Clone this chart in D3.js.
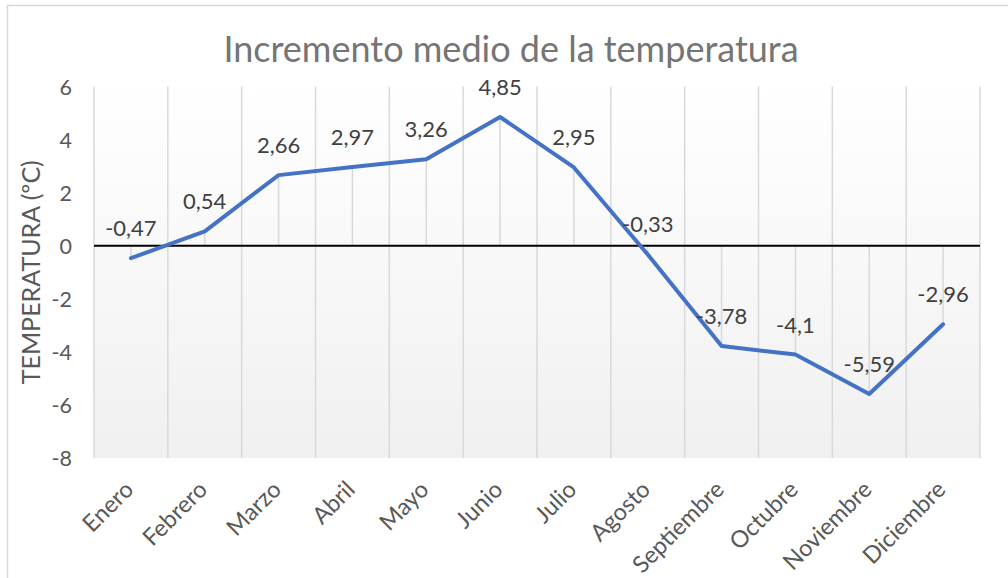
<!DOCTYPE html>
<html>
<head>
<meta charset="utf-8">
<script src="https://cdn.jsdelivr.net/npm/d3@7"></script>
<style>
  html, body { margin: 0; padding: 0; background: #fff; }
  svg { display: block; }
</style>
</head>
<body>
<svg id="chart" width="1008" height="578"></svg>
<script>
const categories = ["Enero","Febrero","Marzo","Abril","Mayo","Junio","Julio","Agosto","Septiembre","Octubre","Noviembre","Diciembre"];
const values = [-0.47, 0.54, 2.66, 2.97, 3.26, 4.85, 2.95, -0.33, -3.78, -4.1, -5.59, -2.96];
const valueLabels = ["-0,47","0,54","2,66","2,97","3,26","4,85","2,95","-0,33","-3,78","-4,1","-5,59","-2,96"];
const yTicks = [-8, -6, -4, -2, 0, 2, 4, 6];
const titleText = "Incremento medio de la temperatura";
const yTitleText = "TEMPERATURA (ºC)";

const FONT = "Lato, 'Open Sans', sans-serif";
const svg = d3.select("#chart");
const plot = { left: 94, right: 980, top: 86.5, bottom: 458 };

// chart border
svg.append("rect").attr("x", 7.5).attr("y", 5.5).attr("width", 1010).attr("height", 580)
  .attr("fill", "#fff").attr("stroke", "#d9d9d9").attr("stroke-width", 1.5);

const x = d3.scaleBand().domain(categories).range([plot.left, plot.right]).padding(0);
const y = d3.scaleLinear().domain([-8, 6]).range([plot.bottom, plot.top]);

// gradient plot background
const defs = svg.append("defs");
const grad = defs.append("linearGradient").attr("id", "bg").attr("x1", 0).attr("y1", 0).attr("x2", 0).attr("y2", 1);
grad.append("stop").attr("offset", "0%").attr("stop-color", "#ffffff");
grad.append("stop").attr("offset", "100%").attr("stop-color", "#f0f0f0");
svg.append("rect").attr("x", plot.left).attr("y", plot.top)
  .attr("width", plot.right - plot.left).attr("height", plot.bottom - plot.top)
  .attr("fill", "url(#bg)");

// vertical gridlines at category boundaries
const bounds = categories.map(c => x(c)).concat([x(categories[categories.length - 1]) + x.bandwidth()]);
svg.append("g").selectAll("line").data(bounds).join("line")
  .attr("x1", d => d).attr("x2", d => d)
  .attr("y1", plot.top).attr("y2", plot.bottom)
  .attr("stroke", "#d9d9d9").attr("stroke-width", 1.5);

// drop lines from points to zero axis
svg.append("g").selectAll("line").data(values).join("line")
  .attr("x1", (d, i) => x(categories[i]) + x.bandwidth() / 2)
  .attr("x2", (d, i) => x(categories[i]) + x.bandwidth() / 2)
  .attr("y1", d => y(d)).attr("y2", y(0))
  .attr("stroke", "#d9d9d9").attr("stroke-width", 1.5);

// zero axis line
svg.append("line").attr("x1", plot.left).attr("x2", plot.right)
  .attr("y1", y(0)).attr("y2", y(0))
  .attr("stroke", "#000").attr("stroke-width", 2);

// y axis labels
const yAxis = d3.axisLeft(y).tickValues(yTicks).tickSize(0).tickPadding(0).tickFormat(d => String(d));
const gy = svg.append("g").attr("transform", `translate(${72},0)`).call(yAxis);
gy.select(".domain").remove();
gy.selectAll("text").attr("font-family", FONT).attr("font-size", 21.5).attr("fill", "#595959")
  .attr("dy", "0.36em");

// x axis labels
const xAxis = d3.axisBottom(x).tickSize(0).tickPadding(0);
const gx = svg.append("g").attr("transform", `translate(0,${plot.bottom})`).call(xAxis);
gx.select(".domain").remove();
gx.selectAll("text")
  .attr("font-family", FONT).attr("font-size", 23.5).attr("fill", "#595959")
  .attr("text-anchor", "end").attr("dy", 0).attr("y", 0).attr("x", 0)
  .attr("transform", "translate(4,33) rotate(-45)");

// line
const line = d3.line().x((d, i) => x(categories[i]) + x.bandwidth() / 2).y(d => y(d));
svg.append("path").datum(values).attr("d", line)
  .attr("fill", "none").attr("stroke", "#4472c4").attr("stroke-width", 4)
  .attr("stroke-linejoin", "round").attr("stroke-linecap", "round");

// data labels
svg.append("g").selectAll("text").data(values).join("text")
  .attr("x", (d, i) => x(categories[i]) + x.bandwidth() / 2)
  .attr("y", d => y(d) - 22)
  .attr("text-anchor", "middle")
  .attr("font-family", FONT).attr("font-size", 22).attr("fill", "#404040")
  .text((d, i) => valueLabels[i]);

// title
svg.append("text").attr("x", 511).attr("y", 62).attr("text-anchor", "middle")
  .attr("font-family", FONT).attr("font-size", 36).attr("fill", "#757575")
  .text(titleText);

// y axis title
svg.append("text")
  .attr("transform", `translate(40,${(plot.top + plot.bottom) / 2}) rotate(-90)`)
  .attr("text-anchor", "middle")
  .attr("font-family", FONT).attr("font-size", 25).attr("fill", "#595959")
  .text(yTitleText);
</script>
</body>
</html>
